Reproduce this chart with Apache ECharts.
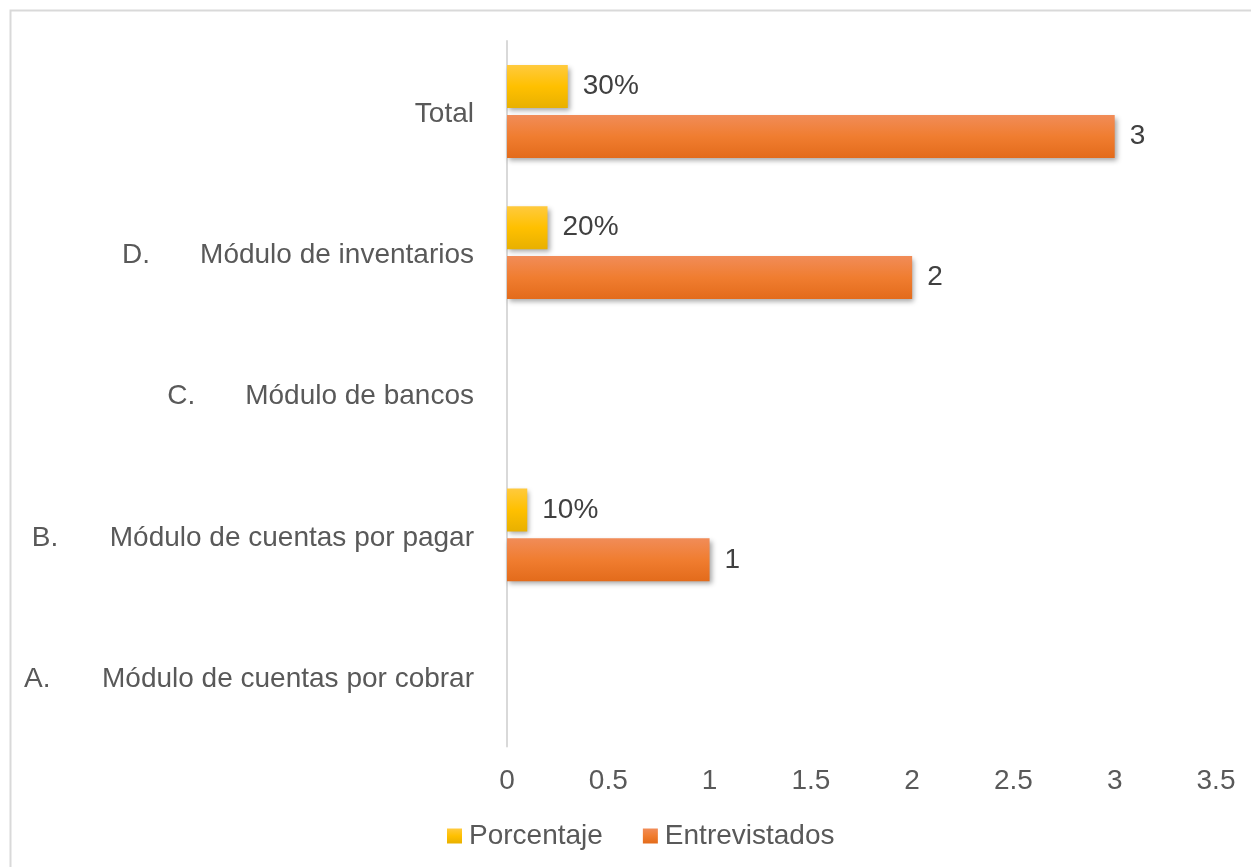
<!DOCTYPE html>
<html>
<head>
<meta charset="utf-8">
<script src="https://cdn.jsdelivr.net/npm/echarts@6/dist/echarts.min.js"></script>
<style>
  html, body { margin: 0; padding: 0; background: #fff; }
  #chart { width: 1251px; height: 867px; }
</style>
</head>
<body>
<div id="chart"></div>
<script>
// Categories, bottom to top (prefix and name separated by a tab)
const categories = [
  'A.\tMódulo de cuentas por cobrar',
  'B.\tMódulo de cuentas por pagar',
  'C.\tMódulo de bancos',
  'D.\tMódulo de inventarios',
  'Total'
];
// Share of respondents (shown as percentages)
const porcentaje = [null, 0.1, null, 0.2, 0.3];
// Number of respondents
const entrevistados = [null, 1, null, 2, 3];
const xTicks = { min: 0, max: 3.5, interval: 0.5 };

const textColor = '#595959';
const fontFamily = 'Liberation Sans, Arial, sans-serif';
const fs = 28;

function grad(top, mid, bottom) {
  return new echarts.graphic.LinearGradient(0, 0, 0, 1, [
    { offset: 0, color: top },
    { offset: 0.5, color: mid },
    { offset: 1, color: bottom }
  ]);
}
const yellow = grad('#ffca3e', '#ffc000', '#e8b000');
const orange = grad('#f18c58', '#f07d30', '#e36b1b');
const barShadow = {
  shadowBlur: 5, shadowOffsetX: 2, shadowOffsetY: 3,
  shadowColor: 'rgba(0,0,0,0.35)'
};

const chart = echarts.init(document.getElementById('chart'));
chart.setOption({
  animation: false,
  textStyle: { fontFamily: fontFamily, color: textColor },
  graphic: [{
    type: 'rect',
    shape: { x: 10.5, y: 10.5, width: 1300, height: 900 },
    style: { fill: 'none', stroke: '#d9d9d9', lineWidth: 2 },
    silent: true
  }],
  grid: { left: 507, right: 35, top: 41, bottom: 120.5, containLabel: false },
  legend: {
    bottom: 12,
    left: 442,
    icon: 'rect',
    itemWidth: 15,
    itemHeight: 15,
    itemGap: 40,
    textStyle: { fontSize: fs, color: textColor, fontFamily: fontFamily, padding: [0, 0, 0, 2] },
    data: [
      { name: 'Porcentaje', itemStyle: { color: yellow } },
      { name: 'Entrevistados', itemStyle: { color: orange } }
    ]
  },
  xAxis: {
    type: 'value',
    min: xTicks.min,
    max: xTicks.max,
    interval: xTicks.interval,
    axisLine: { show: false },
    axisTick: { show: false },
    splitLine: { show: false },
    axisLabel: {
      margin: 21,
      fontSize: fs,
      color: textColor,
      fontFamily: fontFamily,
      showMaxLabel: true
    }
  },
  yAxis: {
    type: 'category',
    data: categories,
    axisLine: { show: true, lineStyle: { color: '#d9d9d9', width: 2 } },
    axisTick: { show: false },
    axisLabel: {
      margin: 33,
      fontSize: fs,
      color: textColor,
      fontFamily: fontFamily,
      padding: [6, 0, 0, 0],
      formatter: function (v) {
        const parts = v.split('\t');
        if (parts.length < 2) return '{t|' + v + '}';
        return '{p|' + parts[0] + '}{t|' + parts[1] + '}';
      },
      rich: {
        p: { width: 78, fontSize: fs, color: textColor, fontFamily: fontFamily, align: 'left' },
        t: { fontSize: fs, color: textColor, fontFamily: fontFamily }
      }
    }
  },
  series: [
    {
      name: 'Porcentaje',
      type: 'bar',
      data: porcentaje,
      barWidth: 43,
      barGap: '16%',
      itemStyle: Object.assign({ color: yellow }, barShadow),
      label: {
        show: true,
        position: 'right',
        distance: 15,
        fontSize: fs,
        color: '#404040',
        fontFamily: fontFamily,
        formatter: function (p) { return Math.round(p.value * 100) + '%'; }
      }
    },
    {
      name: 'Entrevistados',
      type: 'bar',
      data: entrevistados,
      barWidth: 43,
      barGap: '16%',
      itemStyle: Object.assign({ color: orange }, barShadow),
      label: {
        show: true,
        position: 'right',
        distance: 15,
        fontSize: fs,
        color: '#404040',
        fontFamily: fontFamily
      }
    }
  ]
});
</script>
</body>
</html>
